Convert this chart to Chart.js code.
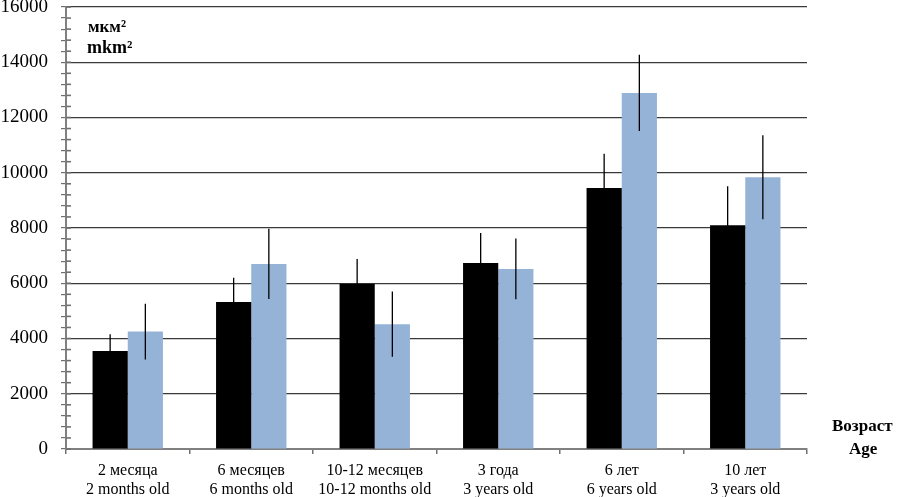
<!DOCTYPE html>
<html>
<head>
<meta charset="utf-8">
<script src="https://cdn.jsdelivr.net/npm/chart.js@4/dist/chart.umd.min.js"></script>
<style>
  body { margin: 0; background: #fff; }
  #wrap { position: relative; width: 898px; height: 497px; }
  .lbl { position: absolute; font-family: 'Liberation Serif', serif; font-weight: bold; color: #000; white-space: nowrap; }
</style>
</head>
<body>
<div id="wrap">
  <canvas id="bar-chart"></canvas>
  <div class="lbl" style="left:88px; top:17px; font-size:17px;">мкм²</div>
  <div class="lbl" style="left:87px; top:37px; font-size:18px;">mkm²</div>
  <div class="lbl" style="left:832px; top:416px; font-size:17px;">Возраст</div>
  <div class="lbl" style="left:849px; top:439px; font-size:17px;">Age</div>
</div>
<script>
const categorias = [
    ["2 месяца", "2 months old"],
    ["6 месяцев", "6 months old"],
    ["10-12 месяцев", "10-12 months old"],
    ["3 года", "3 years old"],
    ["6 лет", "6 years old"],
    ["10 лет", "3 years old"]
]
const valoresPretos = [3550, 5320, 5980, 6730, 9450, 8100]
const errosPretos = [600, 880, 900, 1090, 1240, 1410]
const valoresAzuis = [4250, 6700, 4520, 6520, 12890, 9840]
const errosAzuis = [1010, 1270, 1180, 1100, 1380, 1520]

// barras de erro desenhadas com a escala y
const errorBars = {
    id: 'errorBars',
    afterDatasetsDraw(chart){
        let ctx = chart.ctx
        let y = chart.scales.y
        chart.data.datasets.forEach((ds, i) => {
            let meta = chart.getDatasetMeta(i)
            meta.data.forEach((bar, j) => {
                let v = ds.data[j], e = ds.errors[j]
                ctx.save()
                ctx.strokeStyle = '#000'
                ctx.lineWidth = 1.3
                ctx.beginPath()
                ctx.moveTo(bar.x, y.getPixelForValue(v + e))
                ctx.lineTo(bar.x, y.getPixelForValue(v - e))
                ctx.stroke()
                ctx.restore()
            })
        })
        // pequenos tracos a direita do eixo y
        let left = chart.chartArea.left
        ctx.save()
        ctx.strokeStyle = '#707070'
        ctx.lineWidth = 1.6
        y.ticks.forEach(t => {
            let py = y.getPixelForValue(t.value)
            ctx.beginPath()
            ctx.moveTo(left, py)
            ctx.lineTo(left + 5, py)
            ctx.stroke()
        })
        ctx.restore()
    }
}

new Chart(document.getElementById("bar-chart"), {
    type: 'bar',
    data: {
        labels: categorias,
        datasets: [
            { label: "A", backgroundColor: "#000000", data: valoresPretos, errors: errosPretos },
            { label: "B", backgroundColor: "#95b3d7", data: valoresAzuis, errors: errosAzuis }
        ]
    },
    options: {
        responsive: true,
        maintainAspectRatio: false,
        animation: false,
        layout: { padding: { top: 7, right: 91, left: 0, bottom: 0 } },
        datasets: { bar: { categoryPercentage: 0.57, barPercentage: 1.0 } },
        plugins: {
            legend: { display: false },
            tooltip: { enabled: false }
        },
        scales: {
            x: {
                border: { color: '#808080', width: 2 },
                grid: { drawOnChartArea: false, drawTicks: true, tickLength: 5, color: '#707070', lineWidth: 1.5 },
                ticks: {
                    color: '#000',
                    padding: 8,
                    maxRotation: 0,
                    autoSkip: false,
                    font: { family: 'Liberation Serif', size: 16, lineHeight: 1.15 }
                },
                afterFit(scale){ scale.height = 48 }
            },
            y: {
                min: 0,
                max: 16000,
                border: { color: '#808080', width: 2 },
                grid: {
                    color: c => (c.tick && c.tick.value % 2000 === 0) ? '#3a3a3a' : 'rgba(0,0,0,0)',
                    lineWidth: 1.2,
                    drawTicks: true,
                    tickLength: 5,
                    tickColor: '#707070'
                },
                ticks: {
                    stepSize: 400,
                    autoSkip: false,
                    color: '#000',
                    padding: 13,
                    font: { family: 'Liberation Serif', size: 19 },
                    callback: v => v % 2000 === 0 ? v : ''
                },
                afterFit(scale){
                    scale.width = 66
                    scale.paddingTop = 0
                    scale.paddingBottom = 0
                }
            }
        }
    },
    plugins: [errorBars]
});
</script>
</body>
</html>
